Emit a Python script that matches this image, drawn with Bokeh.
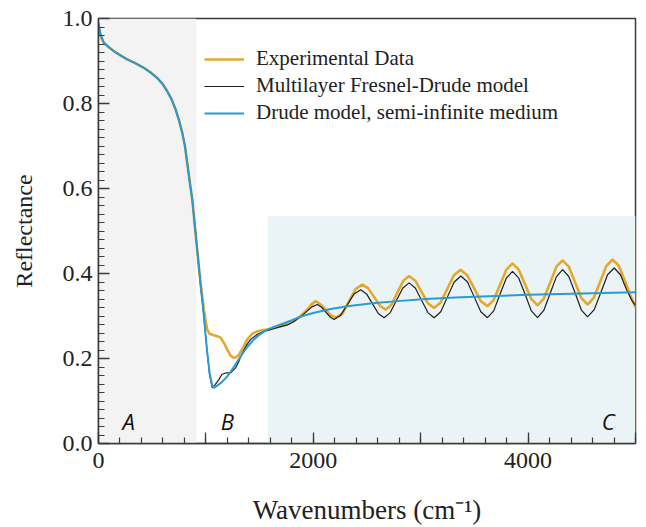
from bokeh.plotting import figure
from bokeh.models import Range1d, FixedTicker, Legend, LegendItem, BoxAnnotation, Label
from bokeh.embed import file_html
from bokeh.resources import INLINE

# ---- data ----
exp_x = [0, 25, 50, 100, 143, 200, 267, 350, 422, 490, 547, 600, 640, 680, 718, 750, 780, 805, 826, 850,
         873, 900, 919, 950, 981, 1000, 1013, 1035, 1059, 1100, 1137, 1170, 1199, 1230, 1255, 1280, 1308,
         1350, 1386, 1430, 1479, 1530, 1572, 1630, 1696, 1760, 1820, 1880, 1945, 1985, 2022,
         2070, 2115, 2160, 2209, 2270, 2333, 2395, 2457, 2512, 2566, 2620, 2675, 2729, 2783, 2838, 2892,
         2950, 3008, 3067, 3125, 3186, 3248, 3309, 3370, 3433, 3496, 3559, 3622, 3680, 3738, 3797, 3855,
         3913, 3972, 4030, 4088, 4146, 4205, 4263, 4321, 4379, 4438, 4496, 4554, 4612, 4670, 4729, 4787,
         4845, 4903, 4950, 5000]
exp_y = [0.975, 0.955, 0.943, 0.932, 0.923, 0.914, 0.904, 0.894, 0.884, 0.872, 0.860, 0.845, 0.829, 0.810,
         0.786, 0.760, 0.731, 0.700, 0.660, 0.615, 0.574, 0.505, 0.456, 0.378, 0.315, 0.285, 0.268, 0.258,
         0.256, 0.253, 0.249, 0.236, 0.221, 0.207, 0.202, 0.203, 0.209, 0.228, 0.245, 0.258, 0.264, 0.267,
         0.268, 0.272, 0.276, 0.281, 0.288, 0.300, 0.315, 0.328, 0.335,
         0.327, 0.315, 0.302, 0.296, 0.305, 0.335, 0.364, 0.374, 0.365, 0.345, 0.324, 0.315, 0.327, 0.355,
         0.383, 0.394, 0.383, 0.357, 0.330, 0.319, 0.332, 0.364, 0.396, 0.409, 0.396, 0.366, 0.335, 0.323,
         0.338, 0.373, 0.409, 0.424, 0.409, 0.374, 0.340, 0.325, 0.341, 0.378, 0.416, 0.431, 0.416, 0.379,
         0.342, 0.327, 0.343, 0.380, 0.418, 0.433, 0.418, 0.382, 0.350, 0.320]

multi_x = [0, 20, 50, 100, 143, 200, 267, 350, 422, 490, 547, 600, 640, 680, 718, 750, 780, 805, 826, 850,
           873, 900, 919, 950, 981, 1010, 1035, 1059, 1085, 1122, 1150, 1184, 1230, 1277, 1310, 1339, 1380,
           1417, 1480, 1541, 1600, 1630, 1696, 1760, 1820, 1880, 1945, 1990, 2038,
           2080, 2120, 2160, 2193, 2255, 2318, 2380, 2442, 2496, 2550, 2605, 2659, 2717, 2775, 2834, 2892,
           2950, 3008, 3067, 3125, 3187, 3249, 3312, 3374, 3436, 3498, 3560, 3622, 3680, 3738, 3797, 3855,
           3913, 3972, 4030, 4088, 4146, 4205, 4263, 4321, 4379, 4438, 4496, 4554, 4616, 4678, 4740, 4802,
           4860, 4920, 4970, 5000]
multi_y = [0.990, 0.962, 0.942, 0.932, 0.923, 0.914, 0.904, 0.894, 0.884, 0.872, 0.860, 0.845, 0.829, 0.810,
           0.786, 0.760, 0.731, 0.700, 0.660, 0.615, 0.574, 0.505, 0.456, 0.375, 0.300, 0.220, 0.160, 0.131,
           0.138, 0.151, 0.163, 0.166, 0.166, 0.178, 0.195, 0.213, 0.232, 0.245, 0.257, 0.264, 0.268, 0.270,
           0.275, 0.279, 0.287, 0.298, 0.312, 0.322, 0.327,
           0.320, 0.308, 0.297, 0.292, 0.302, 0.327, 0.352, 0.362, 0.352, 0.329, 0.306, 0.296, 0.308, 0.337,
           0.366, 0.378, 0.366, 0.337, 0.308, 0.296, 0.310, 0.345, 0.380, 0.394, 0.380, 0.345, 0.310, 0.296,
           0.312, 0.351, 0.389, 0.405, 0.389, 0.351, 0.312, 0.296, 0.313, 0.353, 0.392, 0.409, 0.393, 0.354,
           0.314, 0.298, 0.315, 0.356, 0.397, 0.413, 0.397, 0.360, 0.335, 0.325]

drude_x = [0, 20, 50, 100, 143, 200, 267, 350, 422, 490, 547, 600, 640, 680, 718, 750, 780, 805, 826, 850,
           873, 900, 919, 950, 981, 1010, 1035, 1059, 1075, 1100, 1150, 1199, 1260, 1323, 1385, 1447, 1510,
           1572, 1640, 1696, 1800, 1900, 2000, 2150, 2318, 2550, 2783, 3050, 3374, 3700, 4000, 4500, 5000]
drude_y = [0.990, 0.962, 0.942, 0.932, 0.923, 0.914, 0.904, 0.894, 0.884, 0.872, 0.860, 0.845, 0.829, 0.810,
           0.786, 0.760, 0.731, 0.700, 0.660, 0.615, 0.574, 0.505, 0.456, 0.375, 0.300, 0.220, 0.165, 0.137,
           0.131, 0.135, 0.145, 0.158, 0.180, 0.205, 0.227, 0.245, 0.258, 0.268, 0.275, 0.280, 0.290, 0.300,
           0.307, 0.316, 0.323, 0.330, 0.335, 0.340, 0.344, 0.347, 0.350, 0.353, 0.356]

series_names = ["Experimental Data", "Multilayer Fresnel-Drude model", "Drude model, semi-infinite medium"]
region_labels = ["A", "B", "C"]
region_label_x = [280, 1200, 4745]
region_label_y = [0.054, 0.054, 0.054]
x_ticks = [0, 1000, 2000, 3000, 4000, 5000]
x_tick_labels = {1000: "", 3000: "", 5000: ""}
y_ticks = [0.0, 0.2, 0.4, 0.6, 0.8, 1.0]

SERIF = "Liberation Serif"
AXC = "#3a3a3a"

p = figure(frame_width=537, frame_height=425, output_backend="svg", toolbar_location=None,
           x_range=Range1d(0, 5000), y_range=Range1d(0, 1.0),
           min_border_left=98, min_border_top=18, min_border_right=4, min_border_bottom=60)
p.xgrid.visible = False
p.ygrid.visible = False
p.outline_line_color = AXC
p.outline_line_width = 1.5
p.background_fill_color = "white"
p.border_fill_color = "white"

# shaded regions
p.add_layout(BoxAnnotation(left=0, right=910, bottom=0, top=1.0, fill_color="#f3f3f3", fill_alpha=1.0,
                           line_alpha=0, level="underlay"))
p.add_layout(BoxAnnotation(left=1575, right=5000, bottom=0, top=0.535, fill_color="#eaf3f6", fill_alpha=1.0,
                           line_alpha=0, level="underlay"))

r_exp = p.line(exp_x, exp_y, line_color="#e6a82c", line_width=2.6)
r_mul = p.line(multi_x, multi_y, line_color="#1e1e1e", line_width=1.2)
r_dru = p.line(drude_x, drude_y, line_color="#2b9bd6", line_width=2.0)

legend = Legend(items=[LegendItem(label=series_names[0], renderers=[r_exp]),
                       LegendItem(label=series_names[1], renderers=[r_mul]),
                       LegendItem(label=series_names[2], renderers=[r_dru])],
                location=(106, 318), border_line_alpha=0, background_fill_alpha=0,
                padding=0, margin=0, spacing=2, glyph_width=40, glyph_height=20, label_height=20,
                label_standoff=12, label_text_font=SERIF, label_text_font_size="21px",
                label_text_color="#222222")
p.add_layout(legend)

for t, xx, yy in zip(region_labels, region_label_x, region_label_y):
    p.add_layout(Label(x=xx, y=yy, text=t, text_font="Open Sans", text_font_style="italic",
                       text_font_size="22px", text_align="center", text_baseline="middle",
                       text_color="#111111"))

for ax in (p.xaxis[0], p.yaxis[0]):
    ax.axis_line_color = AXC
    ax.axis_line_width = 1.5
    ax.major_tick_line_color = AXC
    ax.minor_tick_line_color = AXC
    ax.major_tick_line_width = 1.3
    ax.minor_tick_line_width = 1.2
    ax.major_tick_in = 11
    ax.major_tick_out = 0
    ax.minor_tick_in = 6
    ax.minor_tick_out = 0
    ax.major_label_text_font = SERIF
    ax.major_label_text_font_size = "24px"
    ax.major_label_text_color = "#222222"
    ax.axis_label_text_font = SERIF
    ax.axis_label_text_font_style = "normal"
    ax.axis_label_text_color = "#222222"

p.xaxis.ticker = FixedTicker(ticks=x_ticks, minor_ticks=list(range(0, 5001, 200)))
p.xaxis.major_label_overrides = x_tick_labels
p.xaxis.major_label_standoff = 9
p.xaxis.axis_label = "Wavenumbers (cm\u207b\u00b9)"
p.xaxis.axis_label_text_font_size = "27px"
p.xaxis.axis_label_standoff = 24

p.yaxis.ticker = FixedTicker(ticks=y_ticks, minor_ticks=[round(i * 0.02, 2) for i in range(51)])
p.yaxis.major_label_overrides = {t: f"{t:.1f}" for t in y_ticks}
p.yaxis.major_label_standoff = 6
p.yaxis.axis_label = "Reflectance"
p.yaxis.axis_label_text_font_size = "24px"
p.yaxis.axis_label_standoff = 23

open("out.html", "w").write(file_html(p, INLINE))
